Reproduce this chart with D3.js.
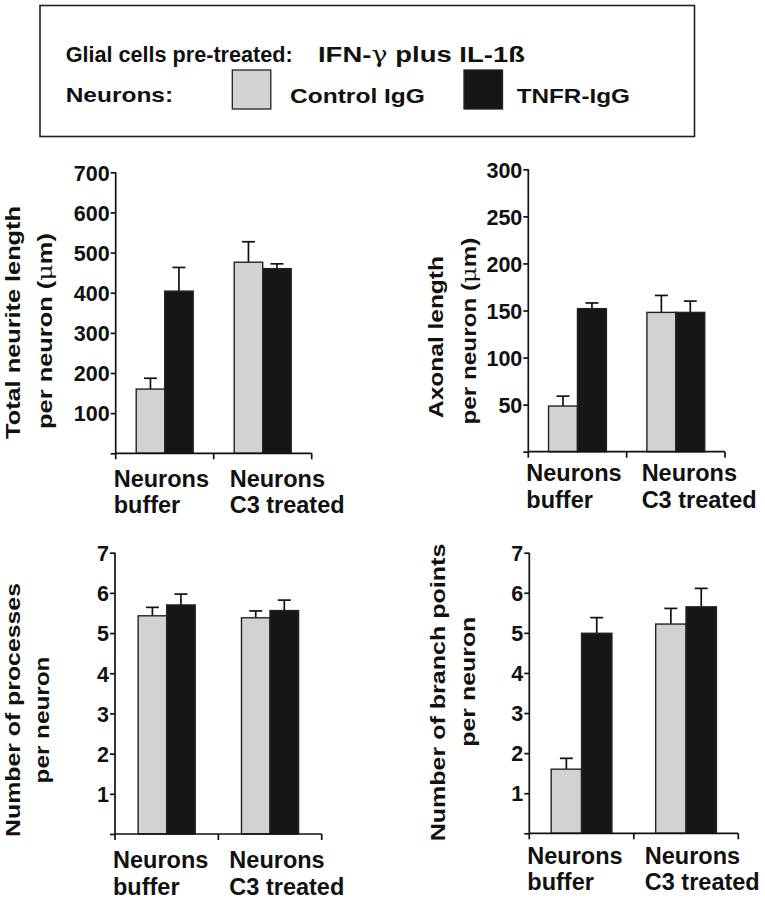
<!DOCTYPE html>
<html><head><meta charset="utf-8">
<script src="https://cdn.jsdelivr.net/npm/d3@7/dist/d3.min.js"></script>
<style>
html,body{margin:0;padding:0;background:#fff;}
svg{display:block;font-family:"Liberation Sans",Arial,Helvetica,sans-serif;font-weight:bold;}
</style></head>
<body><svg id="c" width="765" height="899"></svg>
<script>
// ---- data ----
const categories = ["buffer", "C3 treated"];
const categoryLines = [["Neurons", "buffer"], ["Neurons", "C3 treated"]];
const series = ["Control IgG", "TNFR-IgG"];

const totalControl = [160, 476];
const totalControlErr = [27, 51];
const totalTNFR = [404, 460];
const totalTNFRErr = [59, 12];
const totalTicks = [100, 200, 300, 400, 500, 600, 700];

const axonControl = [48.5, 148];
const axonControlErr = [10.5, 18];
const axonTNFR = [152, 148];
const axonTNFRErr = [6, 12];
const axonTicks = [50, 100, 150, 200, 250, 300];

const procControl = [5.43, 5.38];
const procControlErr = [0.21, 0.17];
const procTNFR = [5.70, 5.56];
const procTNFRErr = [0.27, 0.26];
const procTicks = [1, 2, 3, 4, 5, 6, 7];

const branchControl = [1.60, 5.22];
const branchControlErr = [0.27, 0.39];
const branchTNFR = [4.99, 5.65];
const branchTNFRErr = [0.39, 0.46];
const branchTicks = [1, 2, 3, 4, 5, 6, 7];

const seriesColors = ["#d2d2d2", "#161616"];

// ---- layout ----
const svg = d3.select("#c");

// stretch a text element along its own direction to a target length
function stretch(sel, tx, ty, rot, len) {
  const w = sel.node().getComputedTextLength();
  const s = w > 0 ? len / w : 1;
  sel.attr("transform", `translate(${tx},${ty})` + (rot ? ` rotate(${rot})` : "") + ` scale(${s},1)`);
}

const panels = [
  {vals:[totalControl,totalTNFR], errs:[totalControlErr,totalTNFRErr], ticks: totalTicks, max:700,
   x0:115.7, x1:311.7, y0:453.3, y1:172.3, pad:0.72, g2dx:16,
   lab1:["Total neurite length"], lab2:["per neuron (", "μ", "m)"],
   l1x:20, l1y:322.5, l1len:233, l2x:52, l2y:331, l2len:196, xlBase:486.5},
  {vals:[axonControl,axonTNFR], errs:[axonControlErr,axonTNFRErr], ticks: axonTicks, max:300,
   x0:528.3, x1:725, y0:451.7, y1:169.3, pad:0.70, g2dx:15,
   lab1:["Axonal length"], lab2:["per neuron (", "μ", "m)"],
   l1x:443, l1y:337, l1len:162, l2x:476, l2y:331, l2len:187, xlBase:481},
  {vals:[procControl,procTNFR], errs:[procControlErr,procTNFRErr], ticks: procTicks, max:7,
   x0:115, x1:321.7, y0:834, y1:552.7, pad:0.81, g2dx:11,
   lab1:["Number of processes"], lab2:["per neuron"],
   l1x:20, l1y:710, l1len:254, l2x:49, l2y:720, l2len:127, xlBase:868},
  {vals:[branchControl,branchTNFR], errs:[branchControlErr,branchTNFRErr], ticks: branchTicks, max:7,
   x0:529.3, x1:738.3, y0:833.3, y1:552.7, pad:0.72, g2dx:11,
   lab1:["Number of branch points"], lab2:["per neuron"],
   l1x:445, l1y:692.5, l1len:298, l2x:475, l2y:681.7, l2len:130, xlBase:863.5}
];

panels.forEach(p => {
  const g = svg.append("g");
  const y = d3.scaleLinear().domain([0, p.max]).range([p.y0, p.y1]);
  const x = d3.scaleBand().domain(categories).range([p.x0, p.x1]).paddingInner(0).paddingOuter(0);
  const xs = d3.scaleBand().domain(series).range([0, x.bandwidth()]).paddingInner(0).paddingOuter(p.pad);

  // bars with upward error bars
  series.forEach((s, si) => {
    categories.forEach((c, ci) => {
      const v = p.vals[si][ci], e = p.errs[si][ci];
      const bx = x(c) + xs(s), bw = xs.bandwidth(), cx = bx + bw / 2;
      g.append("line").attr("x1", cx).attr("x2", cx).attr("y1", y(v)).attr("y2", y(v + e))
        .attr("stroke", "#111").attr("stroke-width", 1.7);
      g.append("line").attr("x1", cx - 6.5).attr("x2", cx + 6.5).attr("y1", y(v + e)).attr("y2", y(v + e))
        .attr("stroke", "#111").attr("stroke-width", 1.7);
      g.append("rect").attr("x", bx).attr("y", y(v)).attr("width", bw).attr("height", y(0) - y(v))
        .attr("fill", seriesColors[si]).attr("stroke", "#222").attr("stroke-width", 1.4);
    });
  });

  // y axis
  const ya = d3.axisLeft(y).tickValues([0].concat(p.ticks)).tickSize(5).tickPadding(1)
    .tickFormat(d => d === 0 ? "" : d3.format("d")(d));
  const yg = g.append("g").attr("transform", `translate(${p.x0},0)`).call(ya);
  yg.select(".domain").attr("stroke", "#111").attr("stroke-width", 1.7).attr("d", `M0,${p.y0}V${p.y1}`);
  yg.selectAll(".tick line").attr("stroke", "#111").attr("stroke-width", 1.7);
  yg.selectAll(".tick text").attr("fill", "#111").style("font-size", "21.5px").style("font-weight", "bold")
    .style("font-family", "'Liberation Sans', Arial, sans-serif").attr("dy", "0.36em");

  // x axis
  const xa = d3.axisBottom(x).tickValues([]).tickSize(0);
  const xg = g.append("g").attr("transform", `translate(0,${p.y0})`).call(xa);
  xg.select(".domain").attr("stroke", "#111").attr("stroke-width", 1.7).attr("d", `M${p.x0},0H${p.x1}`);
  const bounds = [p.x0].concat(categories.map(c => x(c) + x.bandwidth()));
  xg.selectAll(".bt").data(bounds).enter().append("line").attr("class", "bt")
    .attr("x1", d => d).attr("x2", d => d).attr("y1", 0).attr("y2", 6)
    .attr("stroke", "#111").attr("stroke-width", 1.7);

  // x category labels
  categories.forEach((c, ci) => {
    const lx = x(c) + (ci === 0 ? -2 : p.g2dx);
    const t = g.append("text").attr("x", lx).attr("y", p.xlBase)
      .attr("fill", "#111").style("font-size", "23.5px");
    categoryLines[ci].forEach((ln, li) => {
      t.append("tspan").attr("x", lx).attr("dy", li === 0 ? 0 : 26.5).text(ln);
    });
  });

  // y title: two rotated lines, stretched along their length as in the original
  const t1 = g.append("text").attr("text-anchor", "middle").attr("fill", "#111").style("font-size", "20.5px");
  p.lab1.forEach(s => t1.append("tspan").text(s));
  stretch(t1, p.l1x, p.l1y, -90, p.l1len);
  const t2 = g.append("text").attr("text-anchor", "middle").attr("fill", "#111").style("font-size", "20.5px");
  p.lab2.forEach(s => {
    const ts = t2.append("tspan").text(s);
    if (s === "μ") ts.style("font-weight", "normal").style("font-family", "'DejaVu Serif', serif");
  });
  stretch(t2, p.l2x, p.l2y, -90, p.l2len);
});

// ---- legend ----
const lg = svg.append("g");
lg.append("rect").attr("x", 40).attr("y", 5.5).attr("width", 654.5).attr("height", 131)
  .attr("fill", "none").attr("stroke", "#222").attr("stroke-width", 1.6);
const g1 = lg.append("text").attr("fill", "#111").style("font-size", "21.5px").text("Glial cells pre-treated:");
stretch(g1, 65.7, 61.7, 0, 227);
const l1 = lg.append("text").attr("fill", "#111").style("font-size", "21.5px");
l1.append("tspan").text("IFN-");
l1.append("tspan").style("font-weight", "normal").style("font-family", "'DejaVu Serif', serif").text("γ");
l1.append("tspan").text(" plus IL-1ß");
stretch(l1, 318, 61.7, 0, 207);
const nl = lg.append("text").attr("fill", "#111").style("font-size", "21px").text("Neurons:");
stretch(nl, 65.7, 102, 0, 107.5);
const legX = [232.3, 464];
const legTextX = [290, 516.7];
const legTextLen = [135, 113.3];
series.forEach((s, i) => {
  lg.append("rect").attr("x", legX[i]).attr("y", 70).attr("width", 38.5).attr("height", 39)
    .attr("fill", seriesColors[i]).attr("stroke", "#222").attr("stroke-width", 1.3);
  const lt = lg.append("text").attr("fill", "#111").style("font-size", "21px").text(s);
  stretch(lt, legTextX[i], 102.5, 0, legTextLen[i]);
});
</script>
</body></html>
